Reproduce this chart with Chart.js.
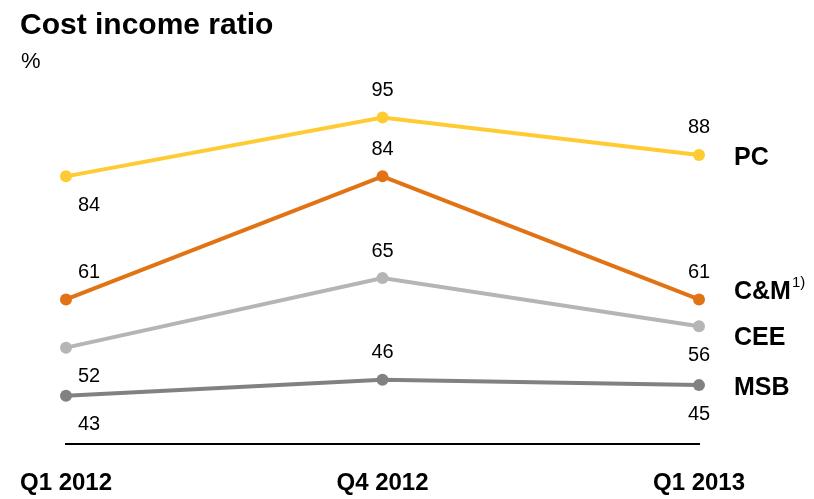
<!DOCTYPE html>
<html>
<head>
<meta charset="utf-8">
<script src="https://cdn.jsdelivr.net/npm/chart.js@4/dist/chart.umd.min.js"></script>
<style>
  html, body { margin: 0; padding: 0; background: #fff; }
  #wrap { width: 814px; height: 499px; }
</style>
</head>
<body>
<div id="wrap"><canvas id="cirChart" width="814" height="499"></canvas></div>
<script>
const quarters = ['Q1 2012', 'Q4 2012', 'Q1 2013'];
const pcValues = [84, 95, 88];
const cmValues = [61, 84, 61];
const ceeValues = [52, 65, 56];
const msbValues = [43, 46, 45];

const FONT = 'Arial, "Liberation Sans", Helvetica, sans-serif';

// where each value label sits relative to its point
const labelSide = {
  PC:  ['below', 'above', 'above'],
  CM:  ['above', 'above', 'above'],
  CEE: ['below', 'above', 'below'],
  MSB: ['below', 'above', 'below']
};

function series(key, name, values, color) {
  return {
    key: key,
    label: name,
    data: values,
    borderColor: color,
    backgroundColor: color,
    pointBackgroundColor: color,
    pointBorderWidth: 0,
    pointRadius: 6,
    pointHoverRadius: 6,
    borderWidth: 4,
    tension: 0,
    clip: false
  };
}

const annotations = {
  id: 'annotations',
  afterDatasetsDraw(chart) {
    const ctx = chart.ctx;
    ctx.save();
    ctx.fillStyle = '#000';

    // title and unit
    ctx.textAlign = 'left';
    ctx.textBaseline = 'alphabetic';
    ctx.font = 'bold 30px ' + FONT;
    ctx.fillText('Cost income ratio', 20, 34);
    ctx.font = '22px ' + FONT;
    ctx.fillText('%', 21, 68);

    chart.data.datasets.forEach((ds, i) => {
      const pts = chart.getDatasetMeta(i).data;
      const sides = labelSide[ds.key];

      // value labels
      ctx.font = '20px ' + FONT;
      ctx.textAlign = 'center';
      ctx.textBaseline = 'middle';
      pts.forEach((p, j) => {
        const dx = j === 0 ? 23 : 0;
        const dy = sides[j] === 'above' ? -27 : 29;
        ctx.fillText(String(ds.data[j]), p.x + dx, p.y + dy);
      });

      // series name at the right end
      const last = pts[pts.length - 1];
      ctx.font = 'bold 25px ' + FONT;
      ctx.textAlign = 'left';
      let ny = last.y + 3;
      if (ds.key === 'CM') ny = last.y - 7;
      if (ds.key === 'CEE') ny = last.y + 12;
      ctx.fillText(ds.label, 734, ny);
      if (ds.key === 'CM') {
        const w = ctx.measureText(ds.label).width;
        ctx.font = '15px ' + FONT;
        ctx.fillText('1)', 734 + w + 1, ny - 10);
      }
    });
    ctx.restore();
  }
};

new Chart(document.getElementById('cirChart'), {
  type: 'line',
  data: {
    labels: quarters,
    datasets: [
      series('PC', 'PC', pcValues, '#FECB33'),
      series('CM', 'C&M', cmValues, '#E27314'),
      series('CEE', 'CEE', ceeValues, '#B5B5B5'),
      series('MSB', 'MSB', msbValues, '#818181')
    ]
  },
  options: {
    responsive: false,
    animation: false,
    events: [],
    layout: { padding: { left: 66, right: 115, top: 80, bottom: 0 } },
    plugins: {
      legend: { display: false },
      tooltip: { enabled: false },
      title: { display: false }
    },
    scales: {
      x: {
        offset: false,
        grid: { display: false, drawTicks: false },
        border: { display: true, color: '#000', width: 2 },
        ticks: {
          color: '#000',
          padding: 25,
          maxRotation: 0,
          autoSkip: false,
          font: { family: FONT, size: 24, weight: 'bold' }
        },
        afterFit(scale) {
          scale.height = 55;
          scale.paddingLeft = 0;
          scale.paddingRight = 0;
        }
      },
      y: {
        display: false,
        min: 34,
        max: 102
      }
    }
  },
  plugins: [annotations]
});
</script>
</body>
</html>
